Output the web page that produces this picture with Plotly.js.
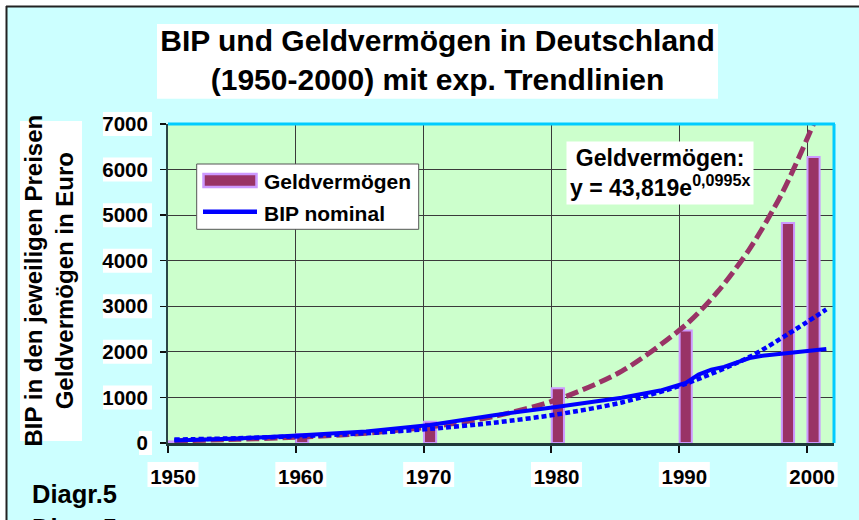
<!DOCTYPE html>
<html>
<head>
<meta charset="utf-8">
<script src="https://cdn.plot.ly/plotly-3.0.1.min.js"></script>
<style>html,body{margin:0;padding:0;background:#fff}#chart{width:859px;height:520px}</style>
</head>
<body>
<div id="chart"></div>
<script>
// ---------- data ----------
const gvYears = [1950, 1960, 1970, 1980, 1990, 1998, 2000];
const gvValues = [35, 190, 465, 1200, 2470, 4830, 6275];

const bipYears = [1950, 1955, 1960, 1965, 1970, 1975, 1980, 1985, 1988, 1990, 1991, 1992, 1993, 1994, 1995, 1996, 1998, 2000, 2001];
const bipValues = [55, 100, 170, 255, 395, 610, 795, 995, 1150, 1320, 1500, 1610, 1670, 1770, 1865, 1915, 1975, 2035, 2065];

const gvTrendYears = [1950, 1955, 1960, 1965, 1970, 1975, 1980, 1985, 1990, 1992.5, 1995, 1997.5, 2000, 2001];
const gvTrendValues = [48, 80, 131, 215, 354, 582, 958, 1576, 2592, 3320, 4260, 5460, 7006, 7740];

const bipTrendYears = [1950, 1955, 1960, 1965, 1970, 1975, 1980, 1985, 1990, 1995, 1998, 2001];
const bipTrendValues = [75, 105, 150, 215, 310, 445, 630, 890, 1300, 1890, 2390, 2930];

const xTicks = [1950, 1960, 1970, 1980, 1990, 2000];
const yTicks = [0, 1000, 2000, 3000, 4000, 5000, 6000, 7000];

const titleText = 'BIP und Geldvermögen in Deutschland<br>(1950-2000) mit exp. Trendlinien';
const yTitleText = 'BIP in den jeweiligen Preisen<br>Geldvermögen in Euro';
const eqText = 'Geldvermögen:<br>y = 43,819e<sup>0,0995x</sup>';
const legendNames = ['Geldvermögen', 'BIP nominal'];
const noteText = 'Diagr.5';

// ---------- layout helpers ----------
const FONT = 'Liberation Sans, Arial, Helvetica, sans-serif';
const L = 168, T = 124, W = 666, H = 319;
const XR = [1950, 2002.1], YR = [0, 7000];
const CAT = 0.5; // category centre offset (values sit in the middle of each year)
const shift = arr => arr.map(v => v + CAT);
const px = p => (p - L) / W;
const py = p => (T + H - p) / H;
const xToPx = v => L + (v - XR[0]) / (XR[1] - XR[0]) * W;
const yToPx = v => T + H - (v - YR[0]) / (YR[1] - YR[0]) * H;
function rect(x0, y0, x1, y1, fill, lineColor, lw, layer) {
  return {type: 'rect', xref: 'paper', yref: 'paper', x0: px(x0), x1: px(x1), y0: py(y1), y1: py(y0),
          fillcolor: fill, line: {color: lineColor || fill, width: lw || 0}, layer: layer || 'below'};
}
function hline(x0, x1, y, color, lw, layer) {
  return {type: 'line', xref: 'paper', yref: 'paper', x0: px(x0), x1: px(x1), y0: py(y), y1: py(y),
          line: {color: color, width: lw}, layer: layer || 'below'};
}
function vline(x, y0, y1, color, lw, layer) {
  return {type: 'line', xref: 'paper', yref: 'paper', x0: px(x), x1: px(x), y0: py(y0), y1: py(y1),
          line: {color: color, width: lw}, layer: layer || 'below'};
}

const shapes = [];
// white margin strips + frame of the chart area
shapes.push(rect(0, 0, 859, 6, '#ffffff'));
shapes.push(rect(0, 0, 6, 520, '#ffffff'));
shapes.push(hline(6, 870, 6.5, '#222222', 2));
shapes.push(vline(6.5, 6, 530, '#222222', 2));
// title box and y-title box
shapes.push(rect(157, 24, 718, 98.7, '#ffffff'));
shapes.push(rect(20, 121, 82, 441, '#ffffff'));
// tick label boxes
yTicks.forEach(t => {
  const c = yToPx(t), w = String(t).length * 12 + 1;
  shapes.push(rect(152 - w, c - 12, 152, c + 12, '#ffffff'));
});
xTicks.forEach(t => {
  const c = xToPx(t) + 5;
  shapes.push(rect(c - 25.5, 462, c + 25.5, 487, '#ffffff'));
});
// cyan frame top / right of the plot area
shapes.push(hline(L, L + W + 1, T, '#00ccff', 3, 'above'));
shapes.push(vline(L + W, T, T + H, '#00ccff', 3, 'above'));
// custom legend
shapes.push(rect(196.7, 164, 418.7, 229.3, '#ffffff', '#555555', 1, 'above'));
shapes.push(rect(203.5, 174, 256.5, 187, '#993366', '#cc99ff', 2.5, 'above'));
shapes.push({type: 'line', xref: 'paper', yref: 'paper', x0: px(203), x1: px(257), y0: py(211.7), y1: py(211.7),
             line: {color: '#0000ff', width: 4.5}, layer: 'above'});

const annotations = [
  {xref: 'paper', yref: 'paper', x: px(48.5), y: py(281), xanchor: 'center', yanchor: 'middle', showarrow: false,
   textangle: -90, text: yTitleText, align: 'center',
   font: {family: FONT, size: 24, weight: 'bold', color: '#000'}},
  {xref: 'paper', yref: 'paper', x: px(262), y: py(181), xanchor: 'left', yanchor: 'middle', showarrow: false,
   text: legendNames[0], font: {family: FONT, size: 21, weight: 'bold', color: '#000'}},
  {xref: 'paper', yref: 'paper', x: px(262), y: py(213), xanchor: 'left', yanchor: 'middle', showarrow: false,
   text: legendNames[1], font: {family: FONT, size: 21, weight: 'bold', color: '#000'}},
  {xref: 'paper', yref: 'paper', x: px(659.5), y: py(172.5), xanchor: 'center', yanchor: 'middle', showarrow: false,
   text: eqText, bgcolor: '#ffffff', borderpad: 3, align: 'center',
   font: {family: FONT, size: 23, weight: 'bold', color: '#000'}},
  {xref: 'paper', yref: 'paper', x: px(30), y: py(494), xanchor: 'left', yanchor: 'middle', showarrow: false,
   text: noteText, font: {family: FONT, size: 25.5, weight: 'bold', color: '#000'}},
  {xref: 'paper', yref: 'paper', x: px(30), y: py(528), xanchor: 'left', yanchor: 'middle', showarrow: false,
   text: noteText, font: {family: FONT, size: 25.5, weight: 'bold', color: '#000'}}
];

const traces = [
  {type: 'bar', x: shift(gvYears), y: gvValues, width: 0.95, name: legendNames[0],
   marker: {color: '#993366', line: {color: '#cc99ff', width: 2}}},
  {type: 'scatter', mode: 'lines', x: shift(gvTrendYears), y: gvTrendValues, name: 'Exp. (Geldvermögen)',
   line: {color: '#993366', width: 5, dash: '13px,5px', shape: 'spline', smoothing: 0.8}},
  {type: 'scatter', mode: 'lines', x: shift(bipTrendYears), y: bipTrendValues, name: 'Exp. (BIP nominal)',
   line: {color: '#0000ff', width: 4.5, dash: '5px,3px', shape: 'spline', smoothing: 0.8}},
  {type: 'scatter', mode: 'lines', x: shift(bipYears), y: bipValues, name: legendNames[1],
   line: {color: '#0000ff', width: 4}}
];

const layout = {
  width: 859, height: 520,
  margin: {l: L, r: 859 - L - W, t: T, b: 520 - T - H, pad: 0},
  paper_bgcolor: '#ccffff',
  plot_bgcolor: '#ccffcc',
  showlegend: false,
  font: {family: FONT, color: '#000'},
  title: {text: titleText, x: 437.5 / 859, xanchor: 'center', xref: 'container',
          y: 1 - 51 / 520, yanchor: 'top', yref: 'container',
          font: {family: FONT, size: 30, weight: 'bold', color: '#000'}},
  xaxis: {range: XR, tickvals: xTicks, ticktext: xTicks.map(String), showgrid: true, gridcolor: '#3a3a3a', gridwidth: 1,
          zeroline: false, showline: true, linecolor: '#1f3a3a', linewidth: 2.5,
          ticks: 'outside', ticklen: 7, tickwidth: 2, tickcolor: '#111', ticklabelshift: 5, ticklabelstandoff: 7,
          tickfont: {family: FONT, size: 20.5, weight: 'bold', color: '#000'}, fixedrange: true},
  yaxis: {range: YR, tickvals: yTicks, ticktext: yTicks.map(String), showgrid: true, gridcolor: '#3a3a3a', gridwidth: 1,
          zeroline: false, showline: true, linecolor: '#2a4545', linewidth: 2,
          ticks: 'outside', ticklen: 6, tickwidth: 1.5, tickcolor: '#111', ticklabelstandoff: 8,
          tickfont: {family: FONT, size: 20.5, weight: 'bold', color: '#000'},
          fixedrange: true},
  shapes: shapes,
  annotations: annotations,
  bargap: 0
};

Plotly.newPlot('chart', traces, layout, {displayModeBar: false, staticPlot: true});
</script>
</body>
</html>
